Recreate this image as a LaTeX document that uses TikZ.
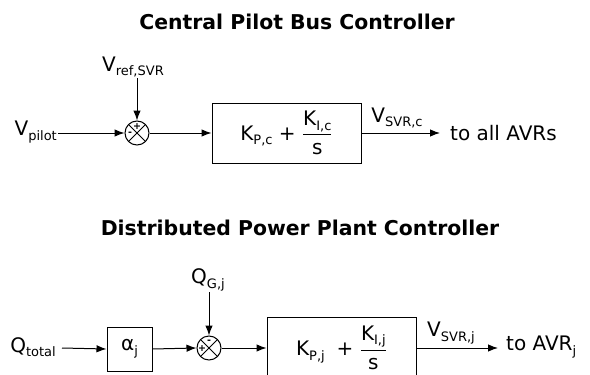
\documentclass[tikz,border=0pt]{standalone}
\usepackage{amsmath}
\usepackage{fontspec}
\setmainfont{DejaVu Sans}
\usetikzlibrary{arrows.meta,calc}
\newcommand{\lo}[1]{\raisebox{-4.5pt}{\fontsize{13}{14}\selectfont #1}}
\begin{document}
\begin{tikzpicture}[x=1pt,y=-1pt,
  every node/.style={font=\fontsize{20}{24}\selectfont, inner sep=1pt},
  ttl/.style={font=\fontsize{20.4}{24}\selectfont\bfseries},
  blk/.style={draw, line width=1pt, minimum width=#1, inner sep=0pt},
  sumc/.style={draw, circle, line width=1pt, minimum size=24pt, inner sep=0pt,
    path picture={\draw[line width=0.9pt] (path picture bounding box.north west) -- (path picture bounding box.south east)
      (path picture bounding box.north east) -- (path picture bounding box.south west);}},
  sgn/.style={font=\fontsize{9.5}{10}\selectfont\bfseries, inner sep=0pt},
  sig/.style={line width=1pt, -{Latex[length=10pt,width=7.5pt]}}]
\clip (0,0) rectangle (590,375);
\useasboundingbox (0,0) rectangle (590,375);

% ---------- Central Pilot Bus Controller ----------
\node[ttl] (t1) at (297,22) {Central Pilot Bus Controller};
\node[anchor=east] (vpilot) at (58,132) {V\lo{pilot}};
\node[sumc] (s1) at (137,133) {};
\node[sgn] (s1p) at ($(s1.center)+(0,-6.5)$) {+};
\node[sgn] (s1m) at ($(s1.center)+(-7,0.5)$) {-};
\node (vref) at (133,67) {V\lo{ref,SVR}};
\node[blk=149pt, minimum height=60pt] (b1) at (286.5,133)
  {$\text{K\lo{P,c} + }\dfrac{\text{K\lo{I,c}}}{\text{s}}$};
\node (vsvrc) at (397,118) {V\lo{SVR,c}};
\coordinate (e1) at (440,133);
\node[anchor=west] (all) at (449,133) {to all AVRs};

\draw[sig] (vpilot.east |- s1.west) -- (s1.west);
\draw[sig] (vref.south -| s1.north) -- (s1.north);
\draw[sig] (s1.east) -- (b1.west);
\draw[sig] (b1.east) -- (e1);

% ---------- Distributed Power Plant Controller ----------
\node[ttl] (t2) at (300,228) {Distributed Power Plant Controller};
\node[anchor=east] (qtot) at (57,347) {Q\lo{total}};
\node[blk=45pt, minimum height=44pt] (alpha) at (129.5,349) {α\lo{j}};
\node[sumc] (s2) at (209,348) {};
\node[sgn] (s2p) at ($(s2.center)+(-7,0.5)$) {+};
\node[sgn] (s2m) at ($(s2.center)+(0,-6.5)$) {-};
\node (qg) at (208,280) {Q\lo{G,j}};
\node[blk=149pt, minimum height=62pt] (b2) at (341.5,348)
  {$\text{K\lo{P,j} \;+ }\dfrac{\text{K\lo{I,j}}}{\text{s}}$};
\node (vsvrj) at (451,333) {V\lo{SVR,j}};
\coordinate (e2) at (498,348);
\node[anchor=west] (avr) at (505,347) {to AVR\lo{j}};

\draw[sig] ($(qtot.east)+(5,1)$) -- (alpha.west);
\draw[sig] (alpha.east) -- (s2.west);
\draw[sig] (qg.south -| s2.north) -- (s2.north);
\draw[sig] (s2.east) -- (b2.west);
\draw[sig] (b2.east) -- (e2);
\end{tikzpicture}
\end{document}
